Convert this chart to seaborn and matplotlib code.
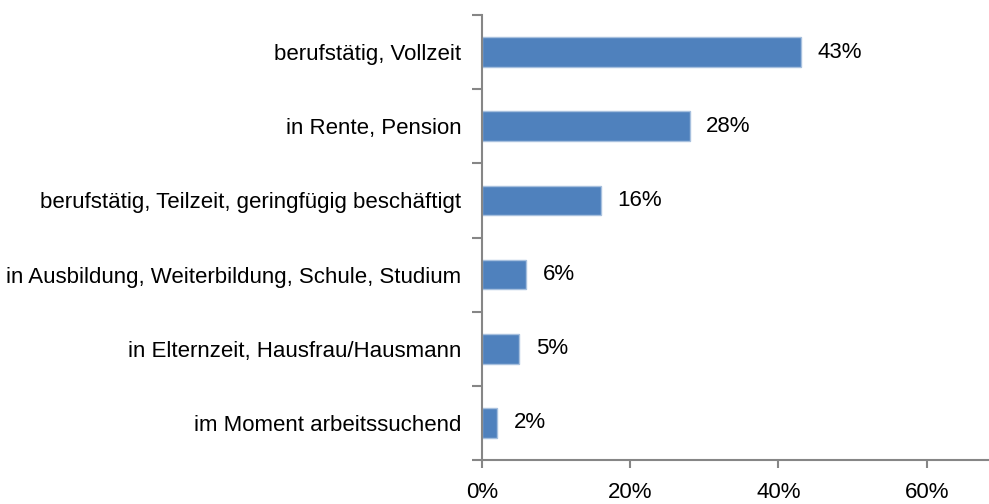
import matplotlib
matplotlib.use("Agg")
import matplotlib.pyplot as plt
import seaborn as sns
import pandas as pd
from matplotlib.ticker import FixedLocator

categories = [
    "berufstätig, Vollzeit",
    "in Rente, Pension",
    "berufstätig, Teilzeit, geringfügig beschäftigt",
    "in Ausbildung, Weiterbildung, Schule, Studium",
    "in Elternzeit, Hausfrau/Hausmann",
    "im Moment arbeitssuchend",
]
shares = [43, 28, 16, 6, 5, 2]
x_ticks = [0, 20, 40, 60]
x_tick_labels = ["0%", "20%", "40%", "60%"]

sns.set_theme(style="white")
plt.rcParams["font.family"] = ["Liberation Sans", "DejaVu Sans"]
plt.rcParams["text.color"] = "black"
plt.rcParams["xtick.labelcolor"] = "black"
plt.rcParams["ytick.labelcolor"] = "black"

df = pd.DataFrame({"Kategorie": categories, "Anteil": shares})

fig = plt.figure(figsize=(9.89, 5.04), dpi=100)
ax = fig.add_axes([482 / 989, 1 - 460 / 504, 1 - 482 / 989, (460 - 15) / 504])

sns.barplot(data=df, y="Kategorie", x="Anteil", orient="h", width=0.4,
            color="#4F81BD", saturation=1, edgecolor="#A7C0DE", linewidth=1.0, ax=ax)

ax.set_xlim(0, 68.4)
ax.set_ylim(len(categories) - 0.5, -0.5)
ax.set_xlabel("")
ax.set_ylabel("")

for c in ax.containers:
    ax.bar_label(c, labels=[f"{v}%" for v in shares], padding=12, fontsize=16, color="black")

axis_grey = "#868686"
for side in ["top", "right"]:
    ax.spines[side].set_visible(False)
for side in ["left", "bottom"]:
    ax.spines[side].set_color(axis_grey)
    ax.spines[side].set_linewidth(1.5)

ax.set_xticks(x_ticks)
ax.set_xticklabels(x_tick_labels)
ax.tick_params(axis="x", which="major", direction="out", length=6, width=1.5,
               color=axis_grey, labelsize=16, pad=10, bottom=True, labelcolor="black")
ax.tick_params(axis="y", which="major", length=0, labelsize=16, pad=15, left=True,
               labelcolor="black")
ax.yaxis.set_minor_locator(FixedLocator([i - 0.5 for i in range(len(categories) + 1)]))
ax.tick_params(axis="y", which="minor", direction="out", length=7, width=1.5,
               color=axis_grey, left=True)

fig.savefig("out.png", dpi=100)
